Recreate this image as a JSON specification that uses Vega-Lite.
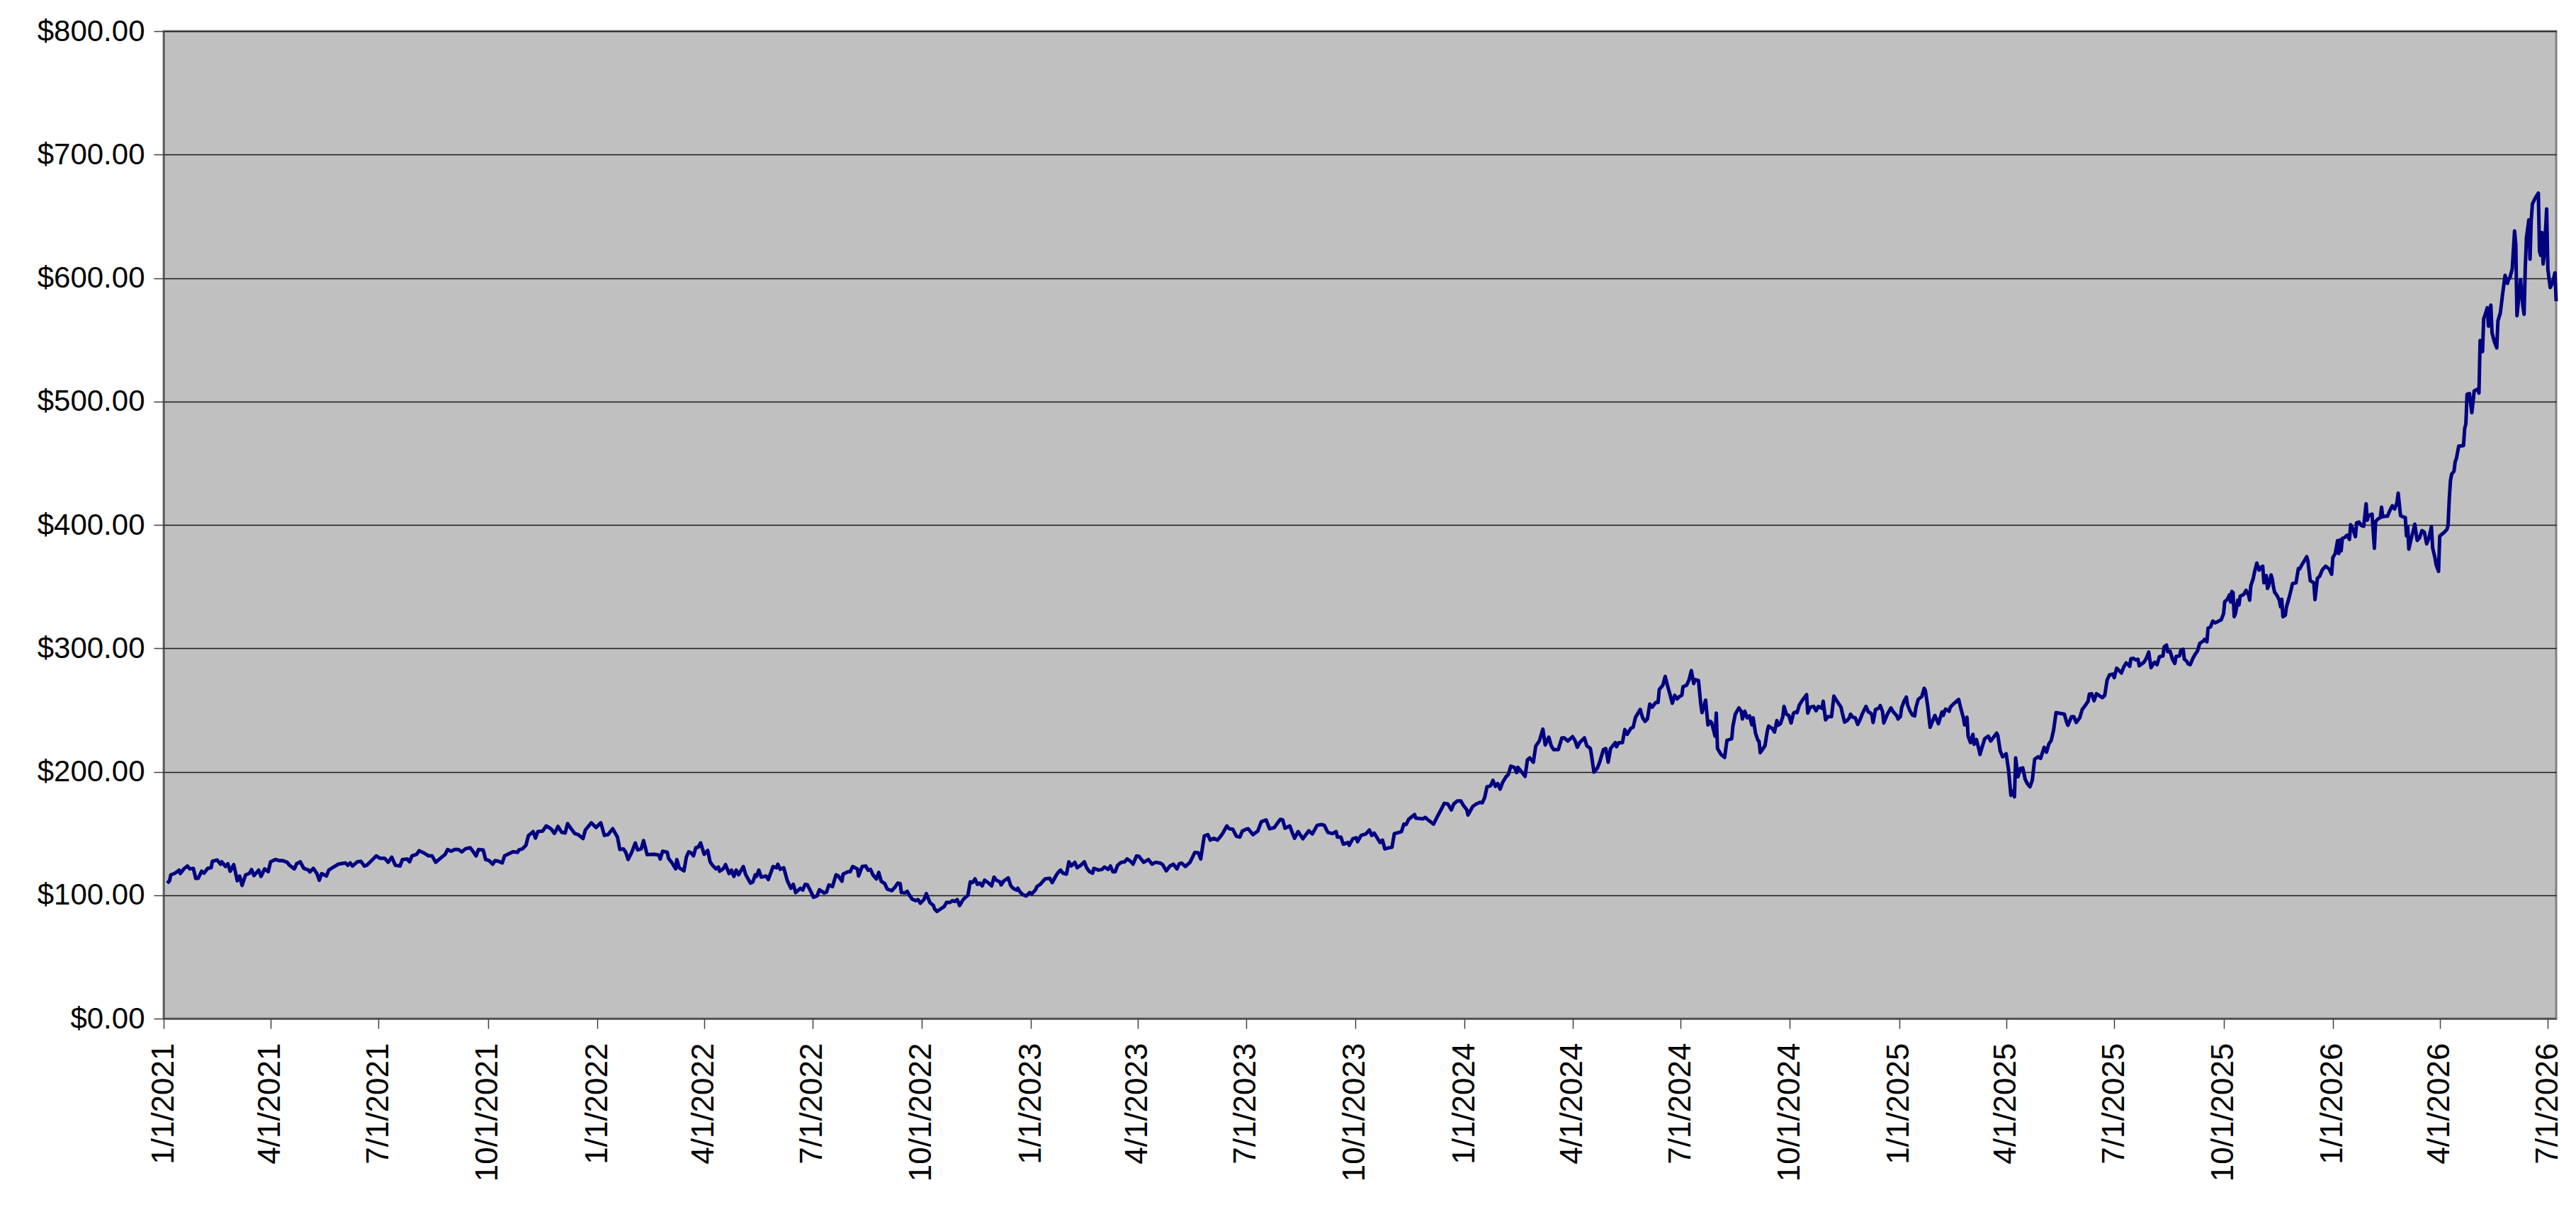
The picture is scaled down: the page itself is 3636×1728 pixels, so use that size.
{
  "$schema": "https://vega.github.io/schema/vega-lite/v6.json",
  "width": 3377,
  "height": 1394,
  "autosize": {"type": "none"},
  "padding": {"left": 231, "top": 44, "right": 28, "bottom": 290},
  "background": "#ffffff",
  "config": {
    "font": "Liberation Sans",
    "view": {"fill": "#c0c0c0", "stroke": "#808080", "strokeWidth": 3}
  },
  "data": {
    "values": [
      {"date": "2021-01-04", "price": 109.8}, {"date": "2021-01-06", "price": 111.7}, {"date": "2021-01-07", "price": 116.5},
      {"date": "2021-01-10", "price": 117.5}, {"date": "2021-01-13", "price": 119.4}, {"date": "2021-01-14", "price": 120.3},
      {"date": "2021-01-15", "price": 117.5}, {"date": "2021-01-18", "price": 121.3}, {"date": "2021-01-21", "price": 123.6},
      {"date": "2021-01-23", "price": 121.3}, {"date": "2021-01-26", "price": 121.7}, {"date": "2021-01-28", "price": 113.6},
      {"date": "2021-01-30", "price": 113.6}, {"date": "2021-02-02", "price": 119.4}, {"date": "2021-02-04", "price": 117.8},
      {"date": "2021-02-07", "price": 121.7}, {"date": "2021-02-10", "price": 122.2}, {"date": "2021-02-11", "price": 127.4},
      {"date": "2021-02-15", "price": 128.5}, {"date": "2021-02-18", "price": 125.1}, {"date": "2021-02-19", "price": 127.0},
      {"date": "2021-02-22", "price": 123.2}, {"date": "2021-02-24", "price": 125.5}, {"date": "2021-02-26", "price": 119.4},
      {"date": "2021-03-01", "price": 124.7}, {"date": "2021-03-04", "price": 111.7}, {"date": "2021-03-06", "price": 115.5},
      {"date": "2021-03-08", "price": 107.9}, {"date": "2021-03-11", "price": 116.5}, {"date": "2021-03-14", "price": 117.5},
      {"date": "2021-03-16", "price": 120.7}, {"date": "2021-03-18", "price": 115.9}, {"date": "2021-03-22", "price": 120.3},
      {"date": "2021-03-24", "price": 115.2}, {"date": "2021-03-27", "price": 121.3}, {"date": "2021-03-30", "price": 119.0},
      {"date": "2021-04-01", "price": 127.0}, {"date": "2021-04-05", "price": 128.9}, {"date": "2021-04-08", "price": 128.0},
      {"date": "2021-04-11", "price": 128.0}, {"date": "2021-04-15", "price": 126.6}, {"date": "2021-04-17", "price": 124.2},
      {"date": "2021-04-21", "price": 121.3}, {"date": "2021-04-23", "price": 125.5}, {"date": "2021-04-26", "price": 127.0},
      {"date": "2021-04-29", "price": 121.7}, {"date": "2021-05-03", "price": 120.3}, {"date": "2021-05-04", "price": 118.8},
      {"date": "2021-05-07", "price": 121.7}, {"date": "2021-05-10", "price": 117.5}, {"date": "2021-05-12", "price": 112.1},
      {"date": "2021-05-14", "price": 117.5}, {"date": "2021-05-18", "price": 115.5}, {"date": "2021-05-20", "price": 120.3},
      {"date": "2021-05-24", "price": 122.8}, {"date": "2021-05-28", "price": 125.1}, {"date": "2021-06-03", "price": 126.1},
      {"date": "2021-06-05", "price": 124.2}, {"date": "2021-06-07", "price": 126.1}, {"date": "2021-06-09", "price": 123.6},
      {"date": "2021-06-13", "price": 127.0}, {"date": "2021-06-16", "price": 127.4}, {"date": "2021-06-19", "price": 123.6},
      {"date": "2021-06-21", "price": 124.2}, {"date": "2021-06-25", "price": 128.0}, {"date": "2021-06-29", "price": 131.8},
      {"date": "2021-07-02", "price": 129.9}, {"date": "2021-07-06", "price": 129.9}, {"date": "2021-07-09", "price": 126.6},
      {"date": "2021-07-12", "price": 130.8}, {"date": "2021-07-15", "price": 124.2}, {"date": "2021-07-19", "price": 123.6},
      {"date": "2021-07-21", "price": 128.9}, {"date": "2021-07-25", "price": 129.3}, {"date": "2021-07-27", "price": 127.0},
      {"date": "2021-07-29", "price": 131.8}, {"date": "2021-08-02", "price": 133.1}, {"date": "2021-08-04", "price": 136.0},
      {"date": "2021-08-08", "price": 134.3}, {"date": "2021-08-12", "price": 131.8}, {"date": "2021-08-15", "price": 131.8},
      {"date": "2021-08-18", "price": 126.6}, {"date": "2021-08-22", "price": 129.9}, {"date": "2021-08-26", "price": 133.1},
      {"date": "2021-08-28", "price": 137.0}, {"date": "2021-08-31", "price": 135.6}, {"date": "2021-09-03", "price": 137.0},
      {"date": "2021-09-06", "price": 137.0}, {"date": "2021-09-09", "price": 135.1}, {"date": "2021-09-12", "price": 137.5},
      {"date": "2021-09-16", "price": 138.5}, {"date": "2021-09-19", "price": 134.7}, {"date": "2021-09-21", "price": 131.8},
      {"date": "2021-09-23", "price": 137.0}, {"date": "2021-09-27", "price": 136.6}, {"date": "2021-09-29", "price": 128.9},
      {"date": "2021-10-02", "price": 128.0}, {"date": "2021-10-05", "price": 125.1}, {"date": "2021-10-07", "price": 128.0},
      {"date": "2021-10-10", "price": 127.4}, {"date": "2021-10-13", "price": 126.1}, {"date": "2021-10-15", "price": 131.8},
      {"date": "2021-10-19", "price": 133.7}, {"date": "2021-10-22", "price": 135.1}, {"date": "2021-10-26", "price": 134.7},
      {"date": "2021-10-27", "price": 136.6}, {"date": "2021-10-30", "price": 137.5}, {"date": "2021-11-02", "price": 140.4},
      {"date": "2021-11-04", "price": 148.1}, {"date": "2021-11-08", "price": 151.5}, {"date": "2021-11-10", "price": 146.2},
      {"date": "2021-11-12", "price": 151.5}, {"date": "2021-11-16", "price": 151.9}, {"date": "2021-11-19", "price": 156.1},
      {"date": "2021-11-23", "price": 153.8}, {"date": "2021-11-26", "price": 150.0}, {"date": "2021-11-29", "price": 155.7},
      {"date": "2021-12-02", "price": 150.9}, {"date": "2021-12-05", "price": 150.4}, {"date": "2021-12-07", "price": 158.0},
      {"date": "2021-12-10", "price": 153.8}, {"date": "2021-12-13", "price": 150.0}, {"date": "2021-12-16", "price": 149.0},
      {"date": "2021-12-20", "price": 145.8}, {"date": "2021-12-22", "price": 152.8}, {"date": "2021-12-27", "price": 158.6},
      {"date": "2021-12-31", "price": 154.8}, {"date": "2022-01-04", "price": 158.6}, {"date": "2022-01-07", "price": 148.4},
      {"date": "2022-01-10", "price": 149.0}, {"date": "2022-01-14", "price": 153.8}, {"date": "2022-01-18", "price": 147.1},
      {"date": "2022-01-20", "price": 137.0}, {"date": "2022-01-23", "price": 137.5}, {"date": "2022-01-25", "price": 134.7},
      {"date": "2022-01-27", "price": 128.9}, {"date": "2022-01-30", "price": 134.7}, {"date": "2022-02-02", "price": 142.3},
      {"date": "2022-02-04", "price": 136.6}, {"date": "2022-02-07", "price": 137.5}, {"date": "2022-02-09", "price": 144.2},
      {"date": "2022-02-12", "price": 132.8}, {"date": "2022-02-18", "price": 133.1}, {"date": "2022-02-22", "price": 132.4},
      {"date": "2022-02-23", "price": 129.3}, {"date": "2022-02-25", "price": 135.6}, {"date": "2022-03-01", "price": 134.7},
      {"date": "2022-03-02", "price": 129.9}, {"date": "2022-03-05", "price": 126.1}, {"date": "2022-03-08", "price": 121.3},
      {"date": "2022-03-09", "price": 128.9}, {"date": "2022-03-11", "price": 122.2}, {"date": "2022-03-15", "price": 119.7},
      {"date": "2022-03-17", "price": 130.8}, {"date": "2022-03-19", "price": 135.1}, {"date": "2022-03-21", "price": 134.3},
      {"date": "2022-03-23", "price": 131.8}, {"date": "2022-03-25", "price": 138.5}, {"date": "2022-03-27", "price": 138.9},
      {"date": "2022-03-29", "price": 142.3}, {"date": "2022-04-01", "price": 133.1}, {"date": "2022-04-04", "price": 136.2},
      {"date": "2022-04-06", "price": 127.0}, {"date": "2022-04-08", "price": 124.2}, {"date": "2022-04-11", "price": 121.3},
      {"date": "2022-04-13", "price": 122.8}, {"date": "2022-04-14", "price": 119.4}, {"date": "2022-04-17", "price": 121.3},
      {"date": "2022-04-19", "price": 124.7}, {"date": "2022-04-22", "price": 117.5}, {"date": "2022-04-24", "price": 120.3},
      {"date": "2022-04-26", "price": 115.2}, {"date": "2022-04-28", "price": 120.3}, {"date": "2022-04-30", "price": 116.5},
      {"date": "2022-05-04", "price": 123.2}, {"date": "2022-05-06", "price": 116.5}, {"date": "2022-05-10", "price": 109.8},
      {"date": "2022-05-12", "price": 110.8}, {"date": "2022-05-14", "price": 116.5}, {"date": "2022-05-15", "price": 115.2},
      {"date": "2022-05-17", "price": 120.3}, {"date": "2022-05-19", "price": 114.6}, {"date": "2022-05-23", "price": 115.5},
      {"date": "2022-05-25", "price": 112.7}, {"date": "2022-05-29", "price": 123.2}, {"date": "2022-06-01", "price": 122.2},
      {"date": "2022-06-02", "price": 125.1}, {"date": "2022-06-04", "price": 120.9}, {"date": "2022-06-07", "price": 122.2},
      {"date": "2022-06-10", "price": 111.7}, {"date": "2022-06-13", "price": 105.6}, {"date": "2022-06-15", "price": 108.8},
      {"date": "2022-06-17", "price": 102.1}, {"date": "2022-06-21", "price": 105.6}, {"date": "2022-06-23", "price": 104.1},
      {"date": "2022-06-25", "price": 108.8}, {"date": "2022-06-27", "price": 108.3}, {"date": "2022-06-30", "price": 102.5},
      {"date": "2022-07-02", "price": 98.3}, {"date": "2022-07-05", "price": 99.3}, {"date": "2022-07-07", "price": 104.4},
      {"date": "2022-07-11", "price": 101.8}, {"date": "2022-07-13", "price": 102.5}, {"date": "2022-07-15", "price": 108.3},
      {"date": "2022-07-18", "price": 106.9}, {"date": "2022-07-21", "price": 116.5}, {"date": "2022-07-23", "price": 115.5},
      {"date": "2022-07-26", "price": 111.3}, {"date": "2022-07-27", "price": 117.1}, {"date": "2022-07-31", "price": 119.0},
      {"date": "2022-08-02", "price": 119.0}, {"date": "2022-08-04", "price": 123.2}, {"date": "2022-08-08", "price": 121.3},
      {"date": "2022-08-09", "price": 115.5}, {"date": "2022-08-12", "price": 123.2}, {"date": "2022-08-15", "price": 123.6},
      {"date": "2022-08-17", "price": 120.3}, {"date": "2022-08-19", "price": 120.9}, {"date": "2022-08-21", "price": 116.5},
      {"date": "2022-08-24", "price": 113.2}, {"date": "2022-08-26", "price": 118.4}, {"date": "2022-08-28", "price": 111.3},
      {"date": "2022-08-31", "price": 109.4}, {"date": "2022-09-02", "price": 105.0}, {"date": "2022-09-06", "price": 103.7},
      {"date": "2022-09-09", "price": 106.9}, {"date": "2022-09-11", "price": 109.8}, {"date": "2022-09-13", "price": 109.4},
      {"date": "2022-09-14", "price": 102.1}, {"date": "2022-09-17", "price": 101.8}, {"date": "2022-09-19", "price": 103.1},
      {"date": "2022-09-20", "price": 101.2}, {"date": "2022-09-23", "price": 96.8}, {"date": "2022-09-26", "price": 95.5},
      {"date": "2022-09-28", "price": 96.4}, {"date": "2022-09-30", "price": 93.5}, {"date": "2022-10-03", "price": 96.4},
      {"date": "2022-10-05", "price": 101.2}, {"date": "2022-10-08", "price": 94.1}, {"date": "2022-10-11", "price": 91.6},
      {"date": "2022-10-12", "price": 88.8}, {"date": "2022-10-14", "price": 86.8}, {"date": "2022-10-17", "price": 88.8},
      {"date": "2022-10-20", "price": 90.7}, {"date": "2022-10-22", "price": 94.1}, {"date": "2022-10-25", "price": 94.1},
      {"date": "2022-10-27", "price": 95.5}, {"date": "2022-10-29", "price": 94.9}, {"date": "2022-10-31", "price": 96.4},
      {"date": "2022-11-02", "price": 91.6}, {"date": "2022-11-05", "price": 96.4}, {"date": "2022-11-07", "price": 98.3},
      {"date": "2022-11-09", "price": 99.9}, {"date": "2022-11-11", "price": 110.8}, {"date": "2022-11-13", "price": 110.2},
      {"date": "2022-11-15", "price": 113.2}, {"date": "2022-11-17", "price": 108.8}, {"date": "2022-11-19", "price": 109.8},
      {"date": "2022-11-21", "price": 107.5}, {"date": "2022-11-23", "price": 112.1}, {"date": "2022-11-26", "price": 110.2},
      {"date": "2022-11-29", "price": 107.5}, {"date": "2022-12-01", "price": 114.6}, {"date": "2022-12-03", "price": 112.1},
      {"date": "2022-12-06", "price": 110.8}, {"date": "2022-12-07", "price": 108.3}, {"date": "2022-12-09", "price": 111.3},
      {"date": "2022-12-13", "price": 114.0}, {"date": "2022-12-15", "price": 107.9}, {"date": "2022-12-17", "price": 105.6},
      {"date": "2022-12-20", "price": 104.1}, {"date": "2022-12-21", "price": 105.6}, {"date": "2022-12-23", "price": 102.5},
      {"date": "2022-12-25", "price": 100.6}, {"date": "2022-12-28", "price": 99.3}, {"date": "2022-12-31", "price": 102.1},
      {"date": "2023-01-02", "price": 101.2}, {"date": "2023-01-05", "price": 104.4}, {"date": "2023-01-06", "price": 106.9},
      {"date": "2023-01-09", "price": 108.8}, {"date": "2023-01-13", "price": 113.2}, {"date": "2023-01-17", "price": 113.6},
      {"date": "2023-01-19", "price": 110.2}, {"date": "2023-01-22", "price": 115.5}, {"date": "2023-01-24", "price": 118.4},
      {"date": "2023-01-26", "price": 120.3}, {"date": "2023-01-28", "price": 117.8}, {"date": "2023-01-31", "price": 117.1},
      {"date": "2023-02-02", "price": 127.0}, {"date": "2023-02-04", "price": 123.6}, {"date": "2023-02-07", "price": 126.6},
      {"date": "2023-02-09", "price": 122.2}, {"date": "2023-02-12", "price": 124.2}, {"date": "2023-02-15", "price": 127.0},
      {"date": "2023-02-17", "price": 122.2}, {"date": "2023-02-19", "price": 119.4}, {"date": "2023-02-22", "price": 117.8},
      {"date": "2023-02-23", "price": 121.7}, {"date": "2023-02-27", "price": 120.3}, {"date": "2023-03-02", "price": 120.9},
      {"date": "2023-03-04", "price": 122.8}, {"date": "2023-03-07", "price": 120.9}, {"date": "2023-03-09", "price": 123.6},
      {"date": "2023-03-11", "price": 119.0}, {"date": "2023-03-13", "price": 119.0}, {"date": "2023-03-15", "price": 124.2},
      {"date": "2023-03-18", "price": 126.6}, {"date": "2023-03-21", "price": 127.0}, {"date": "2023-03-23", "price": 129.3},
      {"date": "2023-03-26", "price": 127.4}, {"date": "2023-03-28", "price": 125.1}, {"date": "2023-03-31", "price": 131.8},
      {"date": "2023-04-02", "price": 131.4}, {"date": "2023-04-06", "price": 126.6}, {"date": "2023-04-10", "price": 128.9},
      {"date": "2023-04-13", "price": 125.1}, {"date": "2023-04-16", "price": 126.6}, {"date": "2023-04-20", "price": 126.0},
      {"date": "2023-04-22", "price": 124.7}, {"date": "2023-04-25", "price": 119.7}, {"date": "2023-04-28", "price": 123.5},
      {"date": "2023-05-01", "price": 125.1}, {"date": "2023-05-04", "price": 121.3}, {"date": "2023-05-06", "price": 125.5},
      {"date": "2023-05-08", "price": 126.0}, {"date": "2023-05-11", "price": 123.2}, {"date": "2023-05-15", "price": 126.6},
      {"date": "2023-05-19", "price": 134.6}, {"date": "2023-05-22", "price": 134.3}, {"date": "2023-05-24", "price": 129.3},
      {"date": "2023-05-27", "price": 148.0}, {"date": "2023-05-30", "price": 149.0}, {"date": "2023-06-01", "price": 144.6},
      {"date": "2023-06-04", "price": 146.1}, {"date": "2023-06-07", "price": 144.6}, {"date": "2023-06-10", "price": 148.0},
      {"date": "2023-06-12", "price": 150.9}, {"date": "2023-06-15", "price": 156.1}, {"date": "2023-06-17", "price": 153.8},
      {"date": "2023-06-20", "price": 153.4}, {"date": "2023-06-23", "price": 147.7}, {"date": "2023-06-26", "price": 147.1},
      {"date": "2023-06-28", "price": 151.9}, {"date": "2023-07-01", "price": 153.4}, {"date": "2023-07-03", "price": 153.8},
      {"date": "2023-07-07", "price": 149.0}, {"date": "2023-07-11", "price": 151.9}, {"date": "2023-07-14", "price": 159.5},
      {"date": "2023-07-18", "price": 161.0}, {"date": "2023-07-21", "price": 153.8}, {"date": "2023-07-25", "price": 154.7},
      {"date": "2023-07-27", "price": 157.6}, {"date": "2023-07-30", "price": 161.4}, {"date": "2023-08-01", "price": 161.0},
      {"date": "2023-08-03", "price": 154.2}, {"date": "2023-08-07", "price": 156.1}, {"date": "2023-08-09", "price": 150.9},
      {"date": "2023-08-11", "price": 146.1}, {"date": "2023-08-14", "price": 151.5}, {"date": "2023-08-18", "price": 145.7},
      {"date": "2023-08-21", "price": 149.6}, {"date": "2023-08-23", "price": 152.2}, {"date": "2023-08-26", "price": 149.6},
      {"date": "2023-08-30", "price": 156.6}, {"date": "2023-09-03", "price": 157.2}, {"date": "2023-09-05", "price": 156.6},
      {"date": "2023-09-08", "price": 150.9}, {"date": "2023-09-12", "price": 149.9}, {"date": "2023-09-15", "price": 151.5},
      {"date": "2023-09-16", "price": 147.1}, {"date": "2023-09-19", "price": 147.1}, {"date": "2023-09-21", "price": 141.3},
      {"date": "2023-09-25", "price": 142.7}, {"date": "2023-09-26", "price": 140.4}, {"date": "2023-09-29", "price": 145.7},
      {"date": "2023-10-02", "price": 146.5}, {"date": "2023-10-03", "price": 143.3}, {"date": "2023-10-06", "price": 148.4},
      {"date": "2023-10-10", "price": 149.6}, {"date": "2023-10-13", "price": 152.8}, {"date": "2023-10-15", "price": 148.4},
      {"date": "2023-10-17", "price": 150.3}, {"date": "2023-10-20", "price": 145.7}, {"date": "2023-10-22", "price": 142.7},
      {"date": "2023-10-24", "price": 144.6}, {"date": "2023-10-26", "price": 137.5}, {"date": "2023-10-30", "price": 138.5},
      {"date": "2023-11-01", "price": 138.8}, {"date": "2023-11-03", "price": 149.9}, {"date": "2023-11-07", "price": 150.9},
      {"date": "2023-11-09", "price": 151.5}, {"date": "2023-11-11", "price": 157.6}, {"date": "2023-11-13", "price": 157.2},
      {"date": "2023-11-15", "price": 161.4}, {"date": "2023-11-20", "price": 165.3}, {"date": "2023-11-21", "price": 162.4},
      {"date": "2023-11-27", "price": 161.8}, {"date": "2023-11-29", "price": 163.0}, {"date": "2023-12-02", "price": 160.5},
      {"date": "2023-12-06", "price": 157.6}, {"date": "2023-12-09", "price": 163.3}, {"date": "2023-12-12", "price": 168.7},
      {"date": "2023-12-15", "price": 174.4}, {"date": "2023-12-18", "price": 173.9}, {"date": "2023-12-21", "price": 169.1},
      {"date": "2023-12-23", "price": 173.9}, {"date": "2023-12-26", "price": 176.3}, {"date": "2023-12-29", "price": 176.3},
      {"date": "2023-12-31", "price": 172.9}, {"date": "2024-01-03", "price": 169.1}, {"date": "2024-01-04", "price": 164.9},
      {"date": "2024-01-08", "price": 171.9}, {"date": "2024-01-11", "price": 173.9}, {"date": "2024-01-14", "price": 175.2},
      {"date": "2024-01-16", "price": 174.8}, {"date": "2024-01-18", "price": 179.0}, {"date": "2024-01-20", "price": 187.8},
      {"date": "2024-01-23", "price": 188.6}, {"date": "2024-01-25", "price": 193.0}, {"date": "2024-01-27", "price": 188.2},
      {"date": "2024-01-29", "price": 190.5}, {"date": "2024-01-31", "price": 185.9}, {"date": "2024-02-02", "price": 191.1},
      {"date": "2024-02-05", "price": 195.9}, {"date": "2024-02-07", "price": 197.8}, {"date": "2024-02-09", "price": 204.5},
      {"date": "2024-02-12", "price": 203.5}, {"date": "2024-02-14", "price": 199.3}, {"date": "2024-02-15", "price": 203.5},
      {"date": "2024-02-18", "price": 200.1}, {"date": "2024-02-21", "price": 196.2}, {"date": "2024-02-23", "price": 209.6},
      {"date": "2024-02-25", "price": 211.2}, {"date": "2024-02-28", "price": 207.7}, {"date": "2024-03-01", "price": 220.7},
      {"date": "2024-03-04", "price": 224.9}, {"date": "2024-03-07", "price": 234.5}, {"date": "2024-03-09", "price": 221.7},
      {"date": "2024-03-12", "price": 228.0}, {"date": "2024-03-14", "price": 221.1}, {"date": "2024-03-16", "price": 217.9},
      {"date": "2024-03-20", "price": 217.9}, {"date": "2024-03-23", "price": 227.4}, {"date": "2024-03-25", "price": 227.4},
      {"date": "2024-03-28", "price": 224.9}, {"date": "2024-04-01", "price": 228.4}, {"date": "2024-04-03", "price": 225.5},
      {"date": "2024-04-05", "price": 219.8}, {"date": "2024-04-07", "price": 223.6}, {"date": "2024-04-11", "price": 227.4},
      {"date": "2024-04-13", "price": 221.1}, {"date": "2024-04-16", "price": 218.8}, {"date": "2024-04-17", "price": 213.1},
      {"date": "2024-04-19", "price": 199.7}, {"date": "2024-04-22", "price": 203.1}, {"date": "2024-04-24", "price": 208.3},
      {"date": "2024-04-27", "price": 217.9}, {"date": "2024-04-29", "price": 218.8}, {"date": "2024-05-01", "price": 207.7},
      {"date": "2024-05-03", "price": 218.8}, {"date": "2024-05-07", "price": 223.6}, {"date": "2024-05-08", "price": 220.3},
      {"date": "2024-05-10", "price": 223.6}, {"date": "2024-05-13", "price": 223.6}, {"date": "2024-05-15", "price": 234.1},
      {"date": "2024-05-17", "price": 230.3}, {"date": "2024-05-20", "price": 235.1}, {"date": "2024-05-22", "price": 236.0},
      {"date": "2024-05-24", "price": 244.1}, {"date": "2024-05-28", "price": 250.4}, {"date": "2024-05-30", "price": 243.7},
      {"date": "2024-06-01", "price": 240.8}, {"date": "2024-06-03", "price": 242.7}, {"date": "2024-06-05", "price": 254.8},
      {"date": "2024-06-07", "price": 252.3}, {"date": "2024-06-10", "price": 256.1}, {"date": "2024-06-12", "price": 256.1},
      {"date": "2024-06-13", "price": 266.6}, {"date": "2024-06-16", "price": 270.1}, {"date": "2024-06-18", "price": 277.2},
      {"date": "2024-06-20", "price": 269.5}, {"date": "2024-06-22", "price": 262.8}, {"date": "2024-06-24", "price": 255.5},
      {"date": "2024-06-26", "price": 261.9}, {"date": "2024-06-28", "price": 259.0}, {"date": "2024-06-30", "price": 260.9},
      {"date": "2024-07-02", "price": 261.9}, {"date": "2024-07-03", "price": 268.9}, {"date": "2024-07-06", "price": 270.1},
      {"date": "2024-07-08", "price": 274.3}, {"date": "2024-07-10", "price": 281.9}, {"date": "2024-07-12", "price": 271.4},
      {"date": "2024-07-13", "price": 274.7}, {"date": "2024-07-16", "price": 273.9}, {"date": "2024-07-18", "price": 254.2},
      {"date": "2024-07-19", "price": 247.9}, {"date": "2024-07-22", "price": 258.0}, {"date": "2024-07-24", "price": 237.9},
      {"date": "2024-07-26", "price": 240.8}, {"date": "2024-07-27", "price": 239.9}, {"date": "2024-07-30", "price": 228.8},
      {"date": "2024-07-31", "price": 247.5}, {"date": "2024-08-01", "price": 218.8}, {"date": "2024-08-04", "price": 214.0},
      {"date": "2024-08-07", "price": 211.5}, {"date": "2024-08-09", "price": 225.5}, {"date": "2024-08-11", "price": 226.1},
      {"date": "2024-08-13", "price": 226.8}, {"date": "2024-08-14", "price": 237.0}, {"date": "2024-08-16", "price": 246.6},
      {"date": "2024-08-19", "price": 251.7}, {"date": "2024-08-21", "price": 249.0}, {"date": "2024-08-22", "price": 242.7},
      {"date": "2024-08-24", "price": 249.0}, {"date": "2024-08-26", "price": 243.7}, {"date": "2024-08-28", "price": 245.2},
      {"date": "2024-08-30", "price": 237.9}, {"date": "2024-08-31", "price": 243.7}, {"date": "2024-09-02", "price": 231.3},
      {"date": "2024-09-04", "price": 225.5}, {"date": "2024-09-05", "price": 224.6}, {"date": "2024-09-06", "price": 215.4},
      {"date": "2024-09-10", "price": 221.1}, {"date": "2024-09-12", "price": 233.2}, {"date": "2024-09-13", "price": 237.0},
      {"date": "2024-09-16", "price": 235.1}, {"date": "2024-09-18", "price": 232.2}, {"date": "2024-09-20", "price": 241.4},
      {"date": "2024-09-21", "price": 237.6}, {"date": "2024-09-23", "price": 238.9}, {"date": "2024-09-25", "price": 244.6},
      {"date": "2024-09-26", "price": 252.9}, {"date": "2024-09-28", "price": 246.6}, {"date": "2024-09-30", "price": 245.6},
      {"date": "2024-10-02", "price": 239.5}, {"date": "2024-10-04", "price": 247.5}, {"date": "2024-10-06", "price": 248.5},
      {"date": "2024-10-07", "price": 247.9}, {"date": "2024-10-09", "price": 254.2}, {"date": "2024-10-12", "price": 258.6},
      {"date": "2024-10-15", "price": 262.4}, {"date": "2024-10-16", "price": 247.5}, {"date": "2024-10-18", "price": 252.3},
      {"date": "2024-10-21", "price": 252.9}, {"date": "2024-10-23", "price": 249.4}, {"date": "2024-10-25", "price": 252.9},
      {"date": "2024-10-28", "price": 251.3}, {"date": "2024-10-29", "price": 257.1}, {"date": "2024-10-31", "price": 242.1},
      {"date": "2024-11-02", "price": 244.6}, {"date": "2024-11-05", "price": 244.6}, {"date": "2024-11-07", "price": 261.3},
      {"date": "2024-11-09", "price": 258.0}, {"date": "2024-11-13", "price": 252.3}, {"date": "2024-11-14", "price": 247.9},
      {"date": "2024-11-16", "price": 240.2}, {"date": "2024-11-18", "price": 241.4}, {"date": "2024-11-20", "price": 243.7},
      {"date": "2024-11-21", "price": 246.6}, {"date": "2024-11-23", "price": 244.1}, {"date": "2024-11-25", "price": 243.7},
      {"date": "2024-11-27", "price": 238.3}, {"date": "2024-11-29", "price": 242.1}, {"date": "2024-12-01", "price": 247.1},
      {"date": "2024-12-04", "price": 252.9}, {"date": "2024-12-06", "price": 248.5}, {"date": "2024-12-08", "price": 247.5},
      {"date": "2024-12-09", "price": 245.6}, {"date": "2024-12-10", "price": 239.9}, {"date": "2024-12-12", "price": 250.4},
      {"date": "2024-12-15", "price": 251.7}, {"date": "2024-12-16", "price": 253.6}, {"date": "2024-12-18", "price": 248.5},
      {"date": "2024-12-19", "price": 239.5}, {"date": "2024-12-22", "price": 246.6}, {"date": "2024-12-25", "price": 251.7},
      {"date": "2024-12-27", "price": 248.5}, {"date": "2024-12-30", "price": 245.2}, {"date": "2024-12-31", "price": 242.7},
      {"date": "2025-01-02", "price": 244.6}, {"date": "2025-01-03", "price": 251.7}, {"date": "2025-01-05", "price": 257.1},
      {"date": "2025-01-07", "price": 260.5}, {"date": "2025-01-08", "price": 254.2}, {"date": "2025-01-10", "price": 249.4},
      {"date": "2025-01-12", "price": 246.0}, {"date": "2025-01-14", "price": 245.2}, {"date": "2025-01-15", "price": 251.7},
      {"date": "2025-01-17", "price": 258.6}, {"date": "2025-01-20", "price": 260.9}, {"date": "2025-01-22", "price": 267.6},
      {"date": "2025-01-23", "price": 265.7}, {"date": "2025-01-25", "price": 253.2}, {"date": "2025-01-27", "price": 236.0},
      {"date": "2025-01-31", "price": 245.6}, {"date": "2025-02-03", "price": 238.9}, {"date": "2025-02-06", "price": 248.5},
      {"date": "2025-02-07", "price": 245.6}, {"date": "2025-02-09", "price": 250.8}, {"date": "2025-02-12", "price": 249.0},
      {"date": "2025-02-13", "price": 252.3}, {"date": "2025-02-16", "price": 255.2}, {"date": "2025-02-20", "price": 258.6},
      {"date": "2025-02-22", "price": 250.8}, {"date": "2025-02-24", "price": 243.7}, {"date": "2025-02-25", "price": 237.9},
      {"date": "2025-02-27", "price": 244.1}, {"date": "2025-02-28", "price": 228.8}, {"date": "2025-03-02", "price": 223.6},
      {"date": "2025-03-04", "price": 230.3}, {"date": "2025-03-05", "price": 222.2}, {"date": "2025-03-07", "price": 226.1},
      {"date": "2025-03-09", "price": 218.4}, {"date": "2025-03-10", "price": 214.0}, {"date": "2025-03-12", "price": 220.7},
      {"date": "2025-03-14", "price": 226.8}, {"date": "2025-03-17", "price": 228.8}, {"date": "2025-03-19", "price": 224.9},
      {"date": "2025-03-21", "price": 227.4}, {"date": "2025-03-24", "price": 231.3}, {"date": "2025-03-25", "price": 229.3},
      {"date": "2025-03-27", "price": 216.9}, {"date": "2025-03-29", "price": 212.1}, {"date": "2025-04-01", "price": 214.6},
      {"date": "2025-04-03", "price": 201.6}, {"date": "2025-04-05", "price": 180.9}, {"date": "2025-04-07", "price": 184.4},
      {"date": "2025-04-08", "price": 179.6}, {"date": "2025-04-09", "price": 211.2}, {"date": "2025-04-11", "price": 195.9},
      {"date": "2025-04-13", "price": 202.6}, {"date": "2025-04-15", "price": 203.1}, {"date": "2025-04-17", "price": 193.9},
      {"date": "2025-04-19", "price": 190.1}, {"date": "2025-04-21", "price": 187.8}, {"date": "2025-04-23", "price": 193.0},
      {"date": "2025-04-25", "price": 210.2}, {"date": "2025-04-28", "price": 212.1}, {"date": "2025-04-30", "price": 210.8},
      {"date": "2025-05-03", "price": 219.8}, {"date": "2025-05-05", "price": 215.9}, {"date": "2025-05-07", "price": 222.6},
      {"date": "2025-05-09", "price": 225.5}, {"date": "2025-05-11", "price": 234.1}, {"date": "2025-05-13", "price": 247.9},
      {"date": "2025-05-15", "price": 247.5}, {"date": "2025-05-20", "price": 246.6}, {"date": "2025-05-22", "price": 239.9},
      {"date": "2025-05-23", "price": 237.6}, {"date": "2025-05-26", "price": 244.6}, {"date": "2025-05-28", "price": 244.6},
      {"date": "2025-05-30", "price": 239.9}, {"date": "2025-06-02", "price": 243.7}, {"date": "2025-06-04", "price": 250.4},
      {"date": "2025-06-06", "price": 252.9}, {"date": "2025-06-09", "price": 257.1}, {"date": "2025-06-10", "price": 262.8},
      {"date": "2025-06-12", "price": 263.2}, {"date": "2025-06-14", "price": 257.5}, {"date": "2025-06-16", "price": 263.2},
      {"date": "2025-06-18", "price": 261.9}, {"date": "2025-06-21", "price": 260.0}, {"date": "2025-06-23", "price": 261.9},
      {"date": "2025-06-25", "price": 274.3}, {"date": "2025-06-27", "price": 278.5}, {"date": "2025-06-30", "price": 279.1},
      {"date": "2025-07-01", "price": 276.2}, {"date": "2025-07-03", "price": 283.9}, {"date": "2025-07-05", "price": 282.0},
      {"date": "2025-07-07", "price": 280.0}, {"date": "2025-07-09", "price": 284.8}, {"date": "2025-07-11", "price": 288.1},
      {"date": "2025-07-13", "price": 286.7}, {"date": "2025-07-14", "price": 285.4}, {"date": "2025-07-15", "price": 291.5},
      {"date": "2025-07-17", "price": 291.9}, {"date": "2025-07-19", "price": 290.6}, {"date": "2025-07-21", "price": 291.1},
      {"date": "2025-07-22", "price": 285.8}, {"date": "2025-07-24", "price": 287.3}, {"date": "2025-07-26", "price": 288.7},
      {"date": "2025-07-28", "price": 291.9}, {"date": "2025-07-30", "price": 296.9}, {"date": "2025-08-01", "price": 284.3},
      {"date": "2025-08-03", "price": 287.7}, {"date": "2025-08-04", "price": 288.7}, {"date": "2025-08-06", "price": 286.7},
      {"date": "2025-08-08", "price": 293.1}, {"date": "2025-08-11", "price": 293.8}, {"date": "2025-08-12", "price": 301.1},
      {"date": "2025-08-14", "price": 302.6}, {"date": "2025-08-15", "price": 297.3}, {"date": "2025-08-17", "price": 297.7},
      {"date": "2025-08-19", "price": 291.1}, {"date": "2025-08-21", "price": 287.7}, {"date": "2025-08-22", "price": 293.4},
      {"date": "2025-08-25", "price": 293.8}, {"date": "2025-08-26", "price": 298.2}, {"date": "2025-08-28", "price": 299.2},
      {"date": "2025-08-29", "price": 291.1}, {"date": "2025-08-31", "price": 289.6}, {"date": "2025-09-01", "price": 287.7},
      {"date": "2025-09-03", "price": 286.7}, {"date": "2025-09-05", "price": 291.5}, {"date": "2025-09-07", "price": 295.0},
      {"date": "2025-09-09", "price": 297.7}, {"date": "2025-09-11", "price": 304.0}, {"date": "2025-09-14", "price": 305.9},
      {"date": "2025-09-15", "price": 307.2}, {"date": "2025-09-17", "price": 305.3}, {"date": "2025-09-18", "price": 316.4},
      {"date": "2025-09-20", "price": 317.4}, {"date": "2025-09-22", "price": 322.1}, {"date": "2025-09-24", "price": 320.6},
      {"date": "2025-09-27", "price": 322.1}, {"date": "2025-09-29", "price": 323.1}, {"date": "2025-10-01", "price": 327.9},
      {"date": "2025-10-02", "price": 337.8}, {"date": "2025-10-04", "price": 339.4}, {"date": "2025-10-05", "price": 341.3},
      {"date": "2025-10-06", "price": 343.2}, {"date": "2025-10-07", "price": 337.4}, {"date": "2025-10-08", "price": 346.0},
      {"date": "2025-10-09", "price": 345.1}, {"date": "2025-10-10", "price": 325.6}, {"date": "2025-10-11", "price": 327.9},
      {"date": "2025-10-13", "price": 339.0}, {"date": "2025-10-14", "price": 335.1}, {"date": "2025-10-15", "price": 342.2},
      {"date": "2025-10-18", "price": 343.6}, {"date": "2025-10-20", "price": 347.0}, {"date": "2025-10-22", "price": 343.2},
      {"date": "2025-10-23", "price": 339.0}, {"date": "2025-10-24", "price": 350.8}, {"date": "2025-10-26", "price": 356.6},
      {"date": "2025-10-27", "price": 361.4}, {"date": "2025-10-29", "price": 369.0}, {"date": "2025-10-31", "price": 363.3},
      {"date": "2025-11-01", "price": 365.2}, {"date": "2025-11-03", "price": 366.5}, {"date": "2025-11-04", "price": 353.1},
      {"date": "2025-11-06", "price": 358.9}, {"date": "2025-11-07", "price": 348.5}, {"date": "2025-11-08", "price": 350.8},
      {"date": "2025-11-10", "price": 359.4}, {"date": "2025-11-11", "price": 356.2}, {"date": "2025-11-12", "price": 349.9},
      {"date": "2025-11-13", "price": 345.5}, {"date": "2025-11-15", "price": 342.8}, {"date": "2025-11-17", "price": 339.0},
      {"date": "2025-11-18", "price": 333.6}, {"date": "2025-11-19", "price": 339.7}, {"date": "2025-11-20", "price": 325.6},
      {"date": "2025-11-22", "price": 326.9}, {"date": "2025-11-23", "price": 333.6}, {"date": "2025-11-25", "price": 340.3},
      {"date": "2025-11-27", "price": 348.0}, {"date": "2025-11-28", "price": 352.4}, {"date": "2025-12-01", "price": 353.1},
      {"date": "2025-12-03", "price": 364.6}, {"date": "2025-12-04", "price": 364.2}, {"date": "2025-12-06", "price": 367.7},
      {"date": "2025-12-08", "price": 370.9}, {"date": "2025-12-10", "price": 374.2}, {"date": "2025-12-11", "price": 370.9},
      {"date": "2025-12-13", "price": 354.7}, {"date": "2025-12-16", "price": 353.1}, {"date": "2025-12-17", "price": 339.4},
      {"date": "2025-12-19", "price": 356.6}, {"date": "2025-12-21", "price": 358.5}, {"date": "2025-12-23", "price": 363.3},
      {"date": "2025-12-24", "price": 364.6}, {"date": "2025-12-26", "price": 366.5}, {"date": "2025-12-29", "price": 364.2},
      {"date": "2025-12-31", "price": 360.0}, {"date": "2026-01-01", "price": 373.4}, {"date": "2026-01-03", "price": 376.7},
      {"date": "2026-01-05", "price": 387.2}, {"date": "2026-01-06", "price": 376.8}, {"date": "2026-01-07", "price": 387.8},
      {"date": "2026-01-08", "price": 378.9}, {"date": "2026-01-09", "price": 388.9}, {"date": "2026-01-11", "price": 389.9},
      {"date": "2026-01-13", "price": 391.6}, {"date": "2026-01-15", "price": 388.2}, {"date": "2026-01-16", "price": 400.1},
      {"date": "2026-01-18", "price": 396.3}, {"date": "2026-01-20", "price": 390.4}, {"date": "2026-01-21", "price": 401.6},
      {"date": "2026-01-23", "price": 402.3}, {"date": "2026-01-25", "price": 399.5}, {"date": "2026-01-27", "price": 398.9},
      {"date": "2026-01-29", "price": 417.1}, {"date": "2026-01-30", "price": 403.8}, {"date": "2026-01-31", "price": 407.4},
      {"date": "2026-02-03", "price": 408.7}, {"date": "2026-02-05", "price": 381.0}, {"date": "2026-02-06", "price": 402.7},
      {"date": "2026-02-08", "price": 404.8}, {"date": "2026-02-10", "price": 405.9}, {"date": "2026-02-11", "price": 414.4},
      {"date": "2026-02-12", "price": 406.5}, {"date": "2026-02-14", "price": 407.0}, {"date": "2026-02-16", "price": 407.0},
      {"date": "2026-02-18", "price": 411.6}, {"date": "2026-02-20", "price": 415.5}, {"date": "2026-02-22", "price": 412.9},
      {"date": "2026-02-24", "price": 418.0}, {"date": "2026-02-25", "price": 425.7}, {"date": "2026-02-27", "price": 407.4},
      {"date": "2026-03-01", "price": 406.5}, {"date": "2026-03-03", "price": 405.9}, {"date": "2026-03-04", "price": 391.0},
      {"date": "2026-03-05", "price": 398.5}, {"date": "2026-03-06", "price": 380.4}, {"date": "2026-03-08", "price": 388.9},
      {"date": "2026-03-10", "price": 396.3}, {"date": "2026-03-11", "price": 400.6}, {"date": "2026-03-13", "price": 387.4},
      {"date": "2026-03-15", "price": 389.5}, {"date": "2026-03-17", "price": 395.3}, {"date": "2026-03-19", "price": 394.2},
      {"date": "2026-03-21", "price": 384.6}, {"date": "2026-03-23", "price": 389.9}, {"date": "2026-03-25", "price": 398.5},
      {"date": "2026-03-26", "price": 381.4}, {"date": "2026-03-28", "price": 373.4}, {"date": "2026-03-29", "price": 367.6},
      {"date": "2026-03-31", "price": 362.3}, {"date": "2026-04-01", "price": 391.0}, {"date": "2026-04-03", "price": 392.5},
      {"date": "2026-04-05", "price": 394.2}, {"date": "2026-04-07", "price": 396.3}, {"date": "2026-04-08", "price": 399.5},
      {"date": "2026-04-09", "price": 420.8}, {"date": "2026-04-10", "price": 435.6}, {"date": "2026-04-11", "price": 441.0},
      {"date": "2026-04-13", "price": 443.5}, {"date": "2026-04-14", "price": 451.2}, {"date": "2026-04-15", "price": 453.7},
      {"date": "2026-04-17", "price": 463.9}, {"date": "2026-04-18", "price": 463.9}, {"date": "2026-04-21", "price": 464.3},
      {"date": "2026-04-22", "price": 478.1}, {"date": "2026-04-23", "price": 481.8}, {"date": "2026-04-24", "price": 505.8},
      {"date": "2026-04-26", "price": 506.4}, {"date": "2026-04-28", "price": 490.9}, {"date": "2026-04-30", "price": 508.5},
      {"date": "2026-05-03", "price": 510.0}, {"date": "2026-05-04", "price": 506.8}, {"date": "2026-05-05", "price": 549.3},
      {"date": "2026-05-07", "price": 540.4}, {"date": "2026-05-08", "price": 566.8}, {"date": "2026-05-10", "price": 572.7},
      {"date": "2026-05-11", "price": 575.9}, {"date": "2026-05-12", "price": 561.0}, {"date": "2026-05-14", "price": 578.0},
      {"date": "2026-05-15", "price": 555.7}, {"date": "2026-05-17", "price": 548.3}, {"date": "2026-05-19", "price": 543.4},
      {"date": "2026-05-20", "price": 565.3}, {"date": "2026-05-22", "price": 571.7}, {"date": "2026-05-24", "price": 587.6},
      {"date": "2026-05-26", "price": 602.1}, {"date": "2026-05-28", "price": 595.7}, {"date": "2026-05-29", "price": 599.3},
      {"date": "2026-05-30", "price": 599.9}, {"date": "2026-06-01", "price": 607.2}, {"date": "2026-06-03", "price": 638.2},
      {"date": "2026-06-04", "price": 627.6}, {"date": "2026-06-05", "price": 569.5}, {"date": "2026-06-07", "price": 588.7},
      {"date": "2026-06-08", "price": 598.7}, {"date": "2026-06-10", "price": 577.0}, {"date": "2026-06-11", "price": 570.6},
      {"date": "2026-06-12", "price": 608.4}, {"date": "2026-06-13", "price": 632.7}, {"date": "2026-06-15", "price": 647.1},
      {"date": "2026-06-16", "price": 615.2}, {"date": "2026-06-17", "price": 647.1}, {"date": "2026-06-18", "price": 659.9},
      {"date": "2026-06-20", "price": 664.1}, {"date": "2026-06-23", "price": 668.8}, {"date": "2026-06-24", "price": 621.6},
      {"date": "2026-06-25", "price": 618.4}, {"date": "2026-06-26", "price": 636.9}, {"date": "2026-06-27", "price": 611.4},
      {"date": "2026-06-28", "price": 619.5}, {"date": "2026-06-30", "price": 656.0}, {"date": "2026-07-01", "price": 607.2},
      {"date": "2026-07-03", "price": 592.3}, {"date": "2026-07-05", "price": 596.1}, {"date": "2026-07-07", "price": 604.2},
      {"date": "2026-07-08", "price": 581.2}
    ]
  },
  "mark": {"type": "line", "color": "#000080", "strokeWidth": 5, "strokeJoin": "round"},
  "encoding": {
    "x": {
      "field": "date",
      "type": "temporal",
      "scale": {
        "type": "utc",
        "domain": [
          {"year": 2021, "month": 1, "date": 1, "utc": true},
          {"year": 2026, "month": 7, "date": 8, "utc": true}
        ]
      },
      "axis": {
        "title": null,
        "grid": false,
        "values": [
          {"year": 2021, "month": 1, "date": 1, "utc": true}, {"year": 2021, "month": 4, "date": 1, "utc": true},
          {"year": 2021, "month": 7, "date": 1, "utc": true}, {"year": 2021, "month": 10, "date": 1, "utc": true},
          {"year": 2022, "month": 1, "date": 1, "utc": true}, {"year": 2022, "month": 4, "date": 1, "utc": true},
          {"year": 2022, "month": 7, "date": 1, "utc": true}, {"year": 2022, "month": 10, "date": 1, "utc": true},
          {"year": 2023, "month": 1, "date": 1, "utc": true}, {"year": 2023, "month": 4, "date": 1, "utc": true},
          {"year": 2023, "month": 7, "date": 1, "utc": true}, {"year": 2023, "month": 10, "date": 1, "utc": true},
          {"year": 2024, "month": 1, "date": 1, "utc": true}, {"year": 2024, "month": 4, "date": 1, "utc": true},
          {"year": 2024, "month": 7, "date": 1, "utc": true}, {"year": 2024, "month": 10, "date": 1, "utc": true},
          {"year": 2025, "month": 1, "date": 1, "utc": true}, {"year": 2025, "month": 4, "date": 1, "utc": true},
          {"year": 2025, "month": 7, "date": 1, "utc": true}, {"year": 2025, "month": 10, "date": 1, "utc": true},
          {"year": 2026, "month": 1, "date": 1, "utc": true}, {"year": 2026, "month": 4, "date": 1, "utc": true},
          {"year": 2026, "month": 7, "date": 1, "utc": true}
        ],
        "labelExpr": "utcFormat(datum.value, '%-m/%-d/%Y')",
        "labelAngle": 270,
        "labelAlign": "right",
        "labelBaseline": "middle",
        "labelFontSize": 44,
        "labelColor": "#000000",
        "labelPadding": 20,
        "labelLimit": 0,
        "labelOverlap": false,
        "labelFlush": false,
        "tickSize": 14,
        "tickWidth": 1.5,
        "tickColor": "#404040",
        "domainColor": "#404040",
        "domainWidth": 1.5
      }
    },
    "y": {
      "field": "price",
      "type": "quantitative",
      "scale": {"domain": [0, 800], "nice": false},
      "axis": {
        "title": null,
        "values": [0, 100, 200, 300, 400, 500, 600, 700, 800],
        "format": "$,.2f",
        "labelFontSize": 42,
        "labelColor": "#000000",
        "labelPadding": 13,
        "labelLimit": 0,
        "labelFlush": false,
        "tickSize": 14,
        "tickWidth": 1.5,
        "tickColor": "#404040",
        "gridColor": "#1a1a1a",
        "gridWidth": 1.5,
        "domainColor": "#404040",
        "domainWidth": 1.5
      }
    }
  }
}
